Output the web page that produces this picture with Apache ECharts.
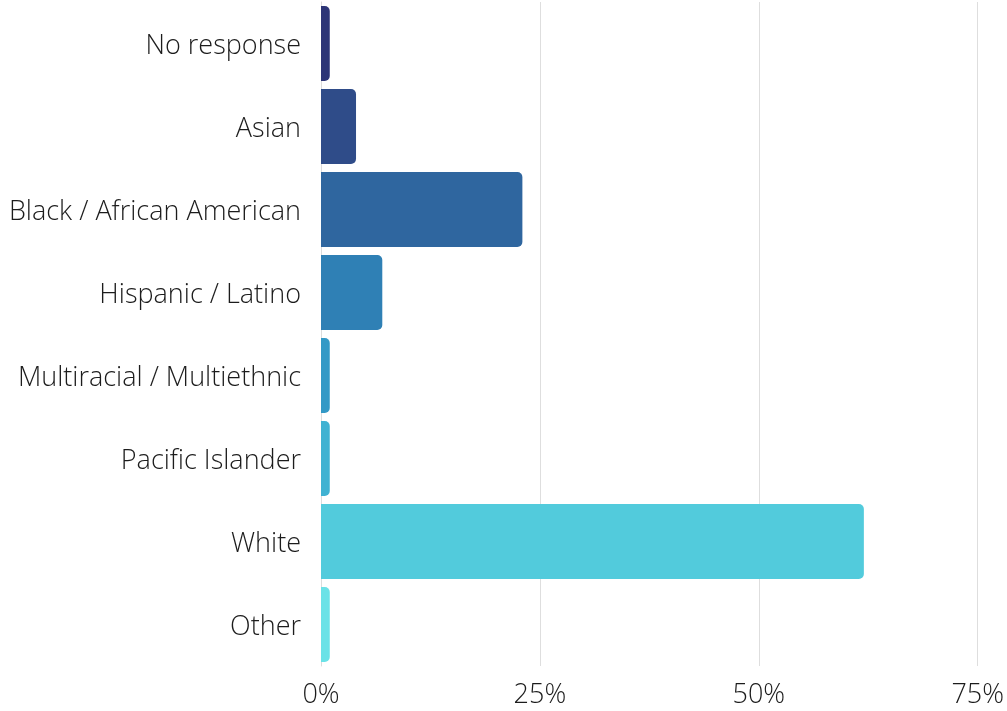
<!DOCTYPE html>
<html>
<head>
<meta charset="utf-8">
<script src="https://cdn.jsdelivr.net/npm/echarts@6/dist/echarts.min.js"></script>
<style>
  html, body { margin: 0; padding: 0; background: #ffffff; }
  #chart { width: 1007px; height: 711px; }
</style>
</head>
<body>
<div id="chart"></div>
<script>
// Survey responses by race / ethnicity (percent of respondents)
const categories = [
  'No response',
  'Asian',
  'Black / African American',
  'Hispanic / Latino',
  'Multiracial / Multiethnic',
  'Pacific Islander',
  'White',
  'Other'
];
const values = [1, 4, 23, 7, 1, 1, 62, 1];
const barColors = [
  '#2d3577', '#2f4c89', '#2f669f', '#2f80b5',
  '#3399c6', '#40b2d2', '#52cbdc', '#6be2e7'
];
const xTicks = [0, 25, 50, 75];

const chart = echarts.init(document.getElementById('chart'));
const font = '"Open Sans", sans-serif';
const labelText = {
  fontFamily: font,
  fontWeight: 300,
  fontSize: 27,
  color: '#1c1c1c'
};

chart.setOption({
  animation: false,
  grid: { left: 321, right: 29, top: 2, bottom: 45, containLabel: false },
  xAxis: {
    type: 'value',
    min: xTicks[0],
    max: xTicks[xTicks.length - 1],
    interval: 25,
    axisLine: { show: false },
    axisTick: { show: false },
    splitLine: { lineStyle: { color: '#dedede', width: 1 } },
    axisLabel: Object.assign({ formatter: v => v + '%', margin: 16 }, labelText)
  },
  yAxis: {
    type: 'category',
    data: categories,
    inverse: true,
    axisLine: { show: true, lineStyle: { color: '#dcdcdc', width: 1 } },
    axisTick: { show: false },
    axisLabel: Object.assign({
      margin: 20,
      formatter: v => '{t|' + v + '}',
      rich: { t: Object.assign({ padding: [6, 0, 0, 0] }, labelText) }
    }, labelText)
  },
  series: [{
    type: 'bar',
    data: values.map((v, i) => ({ value: v, itemStyle: { color: barColors[i] } })),
    barCategoryGap: '9.6%',
    itemStyle: { borderRadius: [0, 5, 5, 0] }
  }]
});
</script>
</body>
</html>
